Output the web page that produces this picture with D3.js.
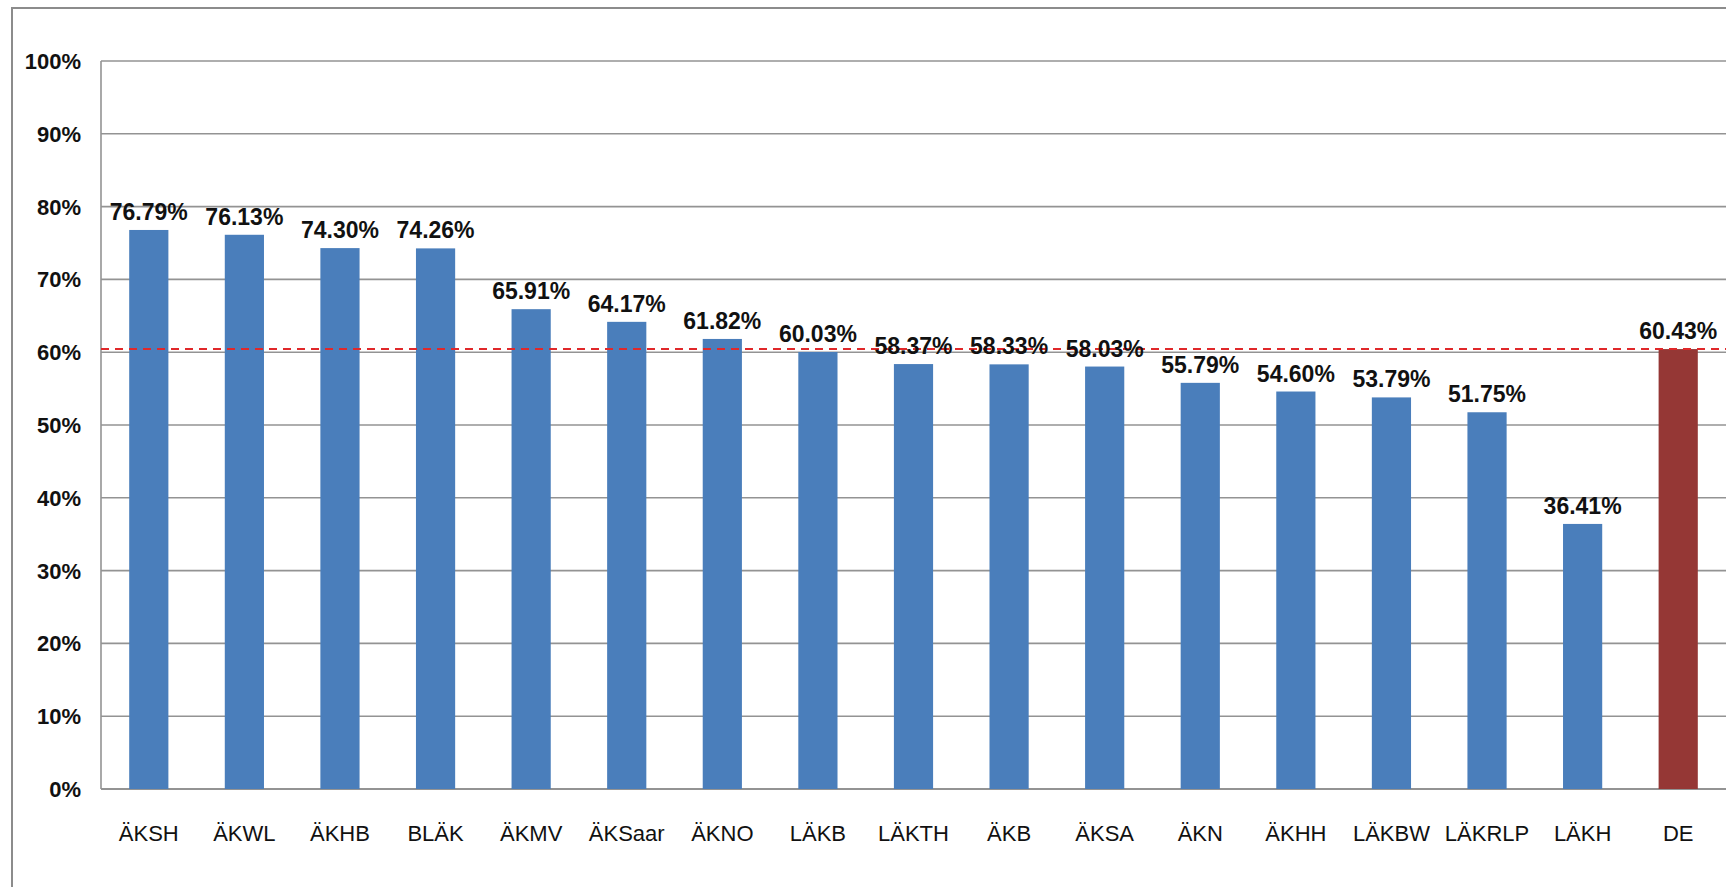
<!DOCTYPE html>
<html>
<head>
<meta charset="utf-8">
<script src="https://cdn.jsdelivr.net/npm/d3@7"></script>
<style>
  html, body { margin: 0; padding: 0; background: #fff; }
  svg { display: block; }
</style>
</head>
<body>
<svg id="chart"></svg>
<script>
const width = 1726;
const height = 887;

// Daten
const categories = ["ÄKSH", "ÄKWL", "ÄKHB", "BLÄK", "ÄKMV", "ÄKSaar", "ÄKNO", "LÄKB", "LÄKTH",
    "ÄKB", "ÄKSA", "ÄKN", "ÄKHH", "LÄKBW", "LÄKRLP", "LÄKH", "DE"];
const values = [76.79, 76.13, 74.30, 74.26, 65.91, 64.17, 61.82, 60.03, 58.37,
    58.33, 58.03, 55.79, 54.60, 53.79, 51.75, 36.41, 60.43];
const averageValue = 60.43;
const yTicks = [0, 10, 20, 30, 40, 50, 60, 70, 80, 90, 100];

const margin = { top: 61, left: 101, right: 0, bottom: 98 };

const svg = d3.select("#chart")
    .attr("width", width)
    .attr("height", height);

// Rahmen
svg.append("rect")
    .attr("x", 12)
    .attr("y", 8)
    .attr("width", width + 20)
    .attr("height", height + 20)
    .attr("fill", "none")
    .attr("stroke", "#8c8c8c")
    .attr("stroke-width", 2);

const x = d3.scaleBand()
    .domain(categories)
    .range([margin.left, width - margin.right])
    .paddingInner(0.59)
    .paddingOuter(0.295);

const y = d3.scaleLinear()
    .domain([0, 100])
    .range([789, margin.top]);

// Gitternetz
svg.append("g")
    .selectAll("line")
    .data(yTicks)
    .join("line")
    .attr("x1", margin.left)
    .attr("x2", width)
    .attr("y1", d => y(d))
    .attr("y2", d => y(d))
    .attr("stroke", "#939393")
    .attr("stroke-width", d => d === 0 ? 2 : 1.6);

// linke Achse
svg.append("line")
    .attr("x1", margin.left)
    .attr("x2", margin.left)
    .attr("y1", y(100))
    .attr("y2", y(0))
    .attr("stroke", "#939393")
    .attr("stroke-width", 1.6);

// y-Beschriftung
svg.append("g")
    .selectAll("text")
    .data(yTicks)
    .join("text")
    .attr("x", margin.left - 20)
    .attr("y", d => y(d))
    .attr("dy", "0.36em")
    .attr("text-anchor", "end")
    .style("font-family", "'Liberation Sans', Arial, sans-serif")
    .style("font-size", "22px")
    .style("font-weight", "bold")
    .attr("fill", "#111")
    .text(d => d + "%");

// Balken
svg.append("g")
    .selectAll("rect")
    .data(categories)
    .join("rect")
    .attr("x", d => x(d))
    .attr("width", x.bandwidth())
    .attr("y", (d, i) => y(values[i]))
    .attr("height", (d, i) => y(0) - y(values[i]))
    .attr("fill", d => d === "DE" ? "#953735" : "#4a7ebb");

// Durchschnittslinie
svg.append("line")
    .attr("x1", margin.left)
    .attr("x2", width)
    .attr("y1", y(averageValue))
    .attr("y2", y(averageValue))
    .attr("stroke", "#e0282a")
    .attr("stroke-width", 2)
    .attr("stroke-dasharray", "8,6");

// Werte
svg.append("g")
    .selectAll("text")
    .data(categories)
    .join("text")
    .attr("x", d => x(d) + x.bandwidth() / 2)
    .attr("y", (d, i) => y(values[i]) - 10)
    .attr("text-anchor", "middle")
    .style("font-family", "'Liberation Sans', Arial, sans-serif")
    .style("font-size", "23px")
    .style("font-weight", "bold")
    .attr("fill", "#111")
    .text((d, i) => values[i].toFixed(2) + "%");

// x-Beschriftung
svg.append("g")
    .selectAll("text")
    .data(categories)
    .join("text")
    .attr("x", d => x(d) + x.bandwidth() / 2)
    .attr("y", 841)
    .attr("text-anchor", "middle")
    .style("font-family", "'Liberation Sans', Arial, sans-serif")
    .style("font-size", "22px")
    .attr("fill", "#111")
    .text(d => d);
</script>
</body>
</html>
